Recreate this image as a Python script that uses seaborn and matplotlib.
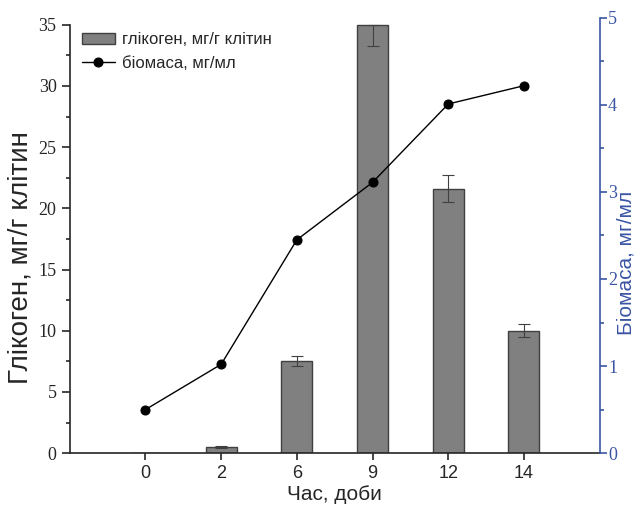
import numpy as np
import pandas as pd
import seaborn as sns
import matplotlib.pyplot as plt
from matplotlib.ticker import MultipleLocator

days = ['0', '2', '6', '9', '12', '14']
glycogen = [0.0, 0.5, 7.5, 35.0, 21.6, 10.0]
err_low = [0.0, 0.05, 0.4, 1.7, 1.1, 0.55]
err_high = [0.0, 0.05, 0.4, 0.0, 1.1, 0.55]
biomass = [0.5, 1.02, 2.45, 3.11, 4.01, 4.22]

sns.set_style('ticks')
plt.rcParams['font.family'] = ['Liberation Sans', 'DejaVu Sans']
blue = '#3a55a4'

df = pd.DataFrame({'day': days, 'glycogen': glycogen, 'biomass': biomass})
pos = np.arange(len(days))

fig = plt.figure(figsize=(6.4, 5.08), dpi=100)
ax = fig.add_axes([0.109, 0.108, 0.828, 0.857])

sns.barplot(data=df, x='day', y='glycogen', order=days, color='#808080',
            saturation=1, width=0.41, edgecolor='#404040', linewidth=1,
            errorbar=None, ax=ax, label='глікоген, мг/г клітин')
ax.errorbar(pos[1:], glycogen[1:], yerr=[err_low[1:], err_high[1:]], fmt='none',
            ecolor='#404040', elinewidth=0.8, capsize=4, capthick=0.8)

ax2 = ax.twinx()
sns.lineplot(x=pos, y=biomass, ax=ax2, color='black', linewidth=1,
             marker='o', markersize=6.5, markeredgecolor='black',
             label='біомаса, мг/мл', legend=False)

ax.set_xlim(-1, 6)
ax.set_ylim(0, 35.57)
ax2.set_ylim(0, 5)

ax.yaxis.set_major_locator(MultipleLocator(5))
ax.yaxis.set_minor_locator(MultipleLocator(2.5))
ax2.yaxis.set_major_locator(MultipleLocator(1))
ax2.yaxis.set_minor_locator(MultipleLocator(0.5))

for a in (ax, ax2):
    a.spines['top'].set_visible(False)
ax.spines['left'].set_bounds(0, 35)
ax.spines['right'].set_visible(False)
ax2.spines['left'].set_visible(False)
ax2.spines['bottom'].set_visible(False)
ax2.spines['right'].set_color(blue)
ax2.spines['right'].set_linewidth(1.2)
ax.spines['left'].set_linewidth(1.2)
ax.spines['bottom'].set_linewidth(1.2)

ax.tick_params(axis='y', which='major', length=6, width=1.2, direction='out')
ax.tick_params(axis='y', which='minor', length=3, width=1.2, direction='out')
ax.tick_params(axis='x', length=5, width=1.2, direction='out', labelsize=13)
ax2.tick_params(axis='y', which='major', length=5, width=1.2, colors=blue, pad=1)
ax2.tick_params(axis='y', which='minor', length=3, width=1.2, colors=blue)

for lab in ax.get_yticklabels():
    lab.set_family('Liberation Serif')
    lab.set_fontsize(13)
for lab in ax2.get_yticklabels():
    lab.set_family('Liberation Serif')
    lab.set_fontsize(13)

ax.set_xlabel('Час, доби', fontsize=15, labelpad=2)
ax.set_ylabel('Глікоген, мг/г клітин', fontsize=20)
ax.yaxis.set_label_coords(-0.068, 0.45)
ax2.set_ylabel('Біомаса, мг/мл', fontsize=15, color=blue)
ax2.yaxis.set_label_coords(1.0312, 0.437)

h1, l1 = ax.get_legend_handles_labels()
h2, l2 = ax2.get_legend_handles_labels()
ax.legend(h1 + h2, l1 + l2, loc='upper left', bbox_to_anchor=(0.01, 0.982),
          borderaxespad=0, frameon=False, fontsize=12, handlelength=2.0,
          handletextpad=0.4, labelspacing=0.5)

fig.savefig('out.png', dpi=100)
